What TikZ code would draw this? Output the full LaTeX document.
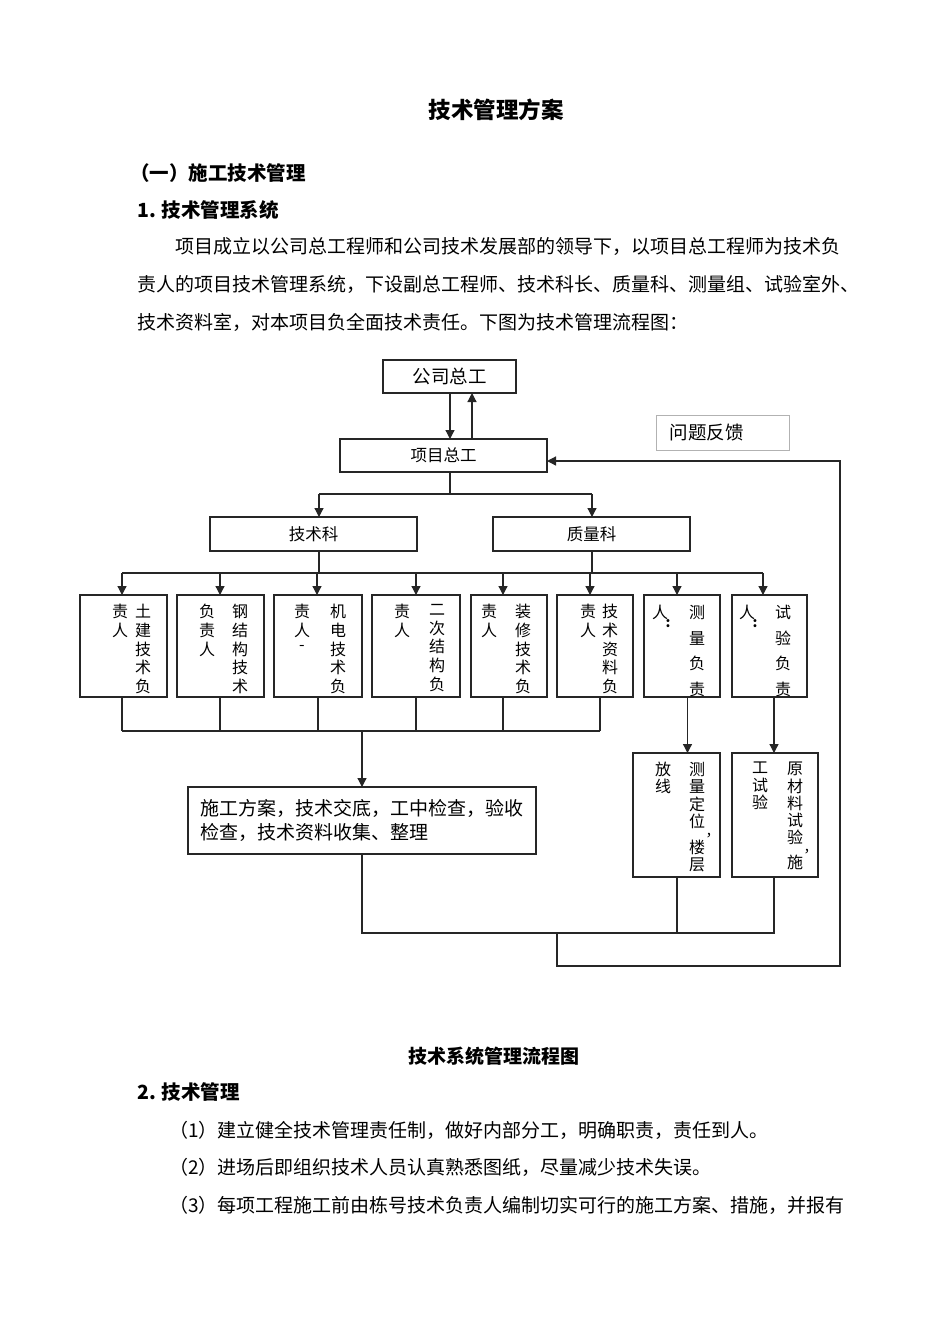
\documentclass[tikz,border=0pt]{standalone}
\usepackage{fontspec}
\setmainfont{Noto Sans CJK SC}
\usetikzlibrary{arrows.meta}
\newcommand\fs[2]{\fontsize{#1}{#2}\selectfont}
\newcommand\vcomma{\smash{\rlap{\kern0.5pt\raisebox{-9pt}{\fs{14}{14}，}}}}
\tikzset{
  box/.style={draw=black!85, line width=1.25pt, inner sep=0pt, outer sep=0pt},
  ln/.style={line width=1.25pt, draw=black!85},
  arr/.style={ln, -{Triangle[length=9pt,width=9pt]}},
  vcol/.style={inner sep=0pt, anchor=north, align=center, font=\fs{16}{18.7}},
  txt/.style={inner sep=0pt, anchor=west, font=\fs{19}{19}},
  hd/.style={inner sep=0pt, anchor=west, font=\fs{19.5}{20}\bfseries},
}
\begin{document}
\begin{tikzpicture}[x=1pt, y=-1pt]
\useasboundingbox (0,0) rectangle (950,1344);
\fill[white] (0,0) rectangle (950,1344);

% ---- text above
\node[inner sep=0pt, font=\fs{22.5}{23}\bfseries] (title) at (496,110) {技术管理方案};
\node[hd] (h1) at (130,173) {（一）施工技术管理};
\node[hd] (h2) at (137,210) {1. 技术管理系统};
\node[txt] (l1) at (175,246) {项目成立以公司总工程师和公司技术发展部的领导下，以项目总工程师为技术负};
\node[txt] (l2) at (137,284) {责人的项目技术管理系统，下设副总工程师、技术科长、质量科、测量组、试验室外、};
\node[txt] (l3) at (137,322) {技术资料室，对本项目负全面技术责任。下图为技术管理流程图：};

% ---- top boxes
\node[box, minimum width=133pt, minimum height=33pt, font=\fs{18.5}{19}] (gs) at (449.5,376.5) {公司总工};
\node[box, minimum width=207pt, minimum height=33pt, font=\fs{16.5}{17}] (xm) at (443.5,455.5) {项目总工};
\node[box, draw=black!30, line width=0.8pt, minimum width=133pt, minimum height=35pt,
      text width=106pt, inner xsep=13.5pt, align=left, font=\fs{18.5}{19}] (wt) at (722.5,432.5) {问题反馈};
\node[box, minimum width=207pt, minimum height=34pt, font=\fs{16.5}{17}] (js) at (313.5,534) {技术科};
\node[box, minimum width=197pt, minimum height=34pt, font=\fs{16.5}{17}] (zl) at (591.5,534) {质量科};

% ---- row of 8 boxes
\foreach \n/\cx/\w in {b1/123.5/87, b2/220.5/87, b3/318/88, b4/416/88, b5/509/76, b6/595/76, b7/682/76, b8/769.5/75}
  \node[box, minimum width=\w pt, minimum height=102pt] (\n) at (\cx,646) {};

\node[vcol] (b1r) at (143,604) {土\\建\\技\\术\\负};
\node[vcol] (b1l) at (120,604) {责\\人};
\node[vcol] (b2r) at (240,604) {钢\\结\\构\\技\\术};
\node[vcol] (b2l) at (207,604) {负\\责\\人};
\node[vcol] (b3r) at (338,604) {机\\电\\技\\术\\负};
\node[vcol] (b3l) at (302,604) {责\\人\\[-5pt]-};
\node[vcol] (b4r) at (437,604) {二\\次\\结\\构\\负};
\node[vcol] (b4l) at (402,604) {责\\人};
\node[vcol] (b5r) at (523,604) {装\\修\\技\\术\\负};
\node[vcol] (b5l) at (489,604) {责\\人};
\node[vcol] (b6r) at (610,604) {技\\术\\资\\料\\负};
\node[vcol] (b6l) at (588,604) {责\\人};
\node[vcol, font=\fs{16}{25.6}] (b7r) at (697,605) {测\\量\\负\\责};
\node[vcol] (b7l) at (660,605) {人};
\node[inner sep=0pt, font=\fs{14}{14}\bfseries] (b7c) at (668,624) {:};
\node[vcol, font=\fs{16}{25.6}] (b8r) at (783,605) {试\\验\\负\\责};
\node[vcol] (b8l) at (747,605) {人};
\node[inner sep=0pt, font=\fs{14}{14}\bfseries] (b8c) at (755,624) {:};

% ---- lower boxes
\node[box, minimum width=348pt, minimum height=67pt, align=left, font=\fs{19}{24}] (sg) at (362,820.5)
  {施工方案，技术交底，工中检查，验收\\检查，技术资料收集、整理};
\node[box, minimum width=87pt, minimum height=124pt] (cl) at (676.5,815) {};
\node[box, minimum width=86pt, minimum height=124pt] (sy) at (775,815) {};
\node[vcol, font=\fs{16}{17.3}] (clr) at (697,762) {测\\量\\定\\位\vcomma\\[9pt]楼\\层};
\node[vcol, font=\fs{16}{17.3}] (cll) at (663,762) {放\\线};
\node[vcol, font=\fs{16}{17.3}] (syr) at (795,762) {原\\材\\料\\试\\验\vcomma\\[7.5pt]施};
\node[vcol, font=\fs{16}{17.3}] (syl) at (760,762) {工\\试\\验};

% ---- connectors top
\draw[arr] ([xshift=0.5pt]gs.south) -- ([xshift=0.5pt]gs.south |- xm.north);
\draw[arr] ([xshift=22.5pt]gs.south |- xm.north) -- ([xshift=22.5pt]gs.south);

\coordinate (c1) at (450,494);
\coordinate (c1l) at (319,494);
\coordinate (c1r) at (592,494);
\draw[ln] (c1 |- xm.south) -- (c1);
\draw[ln] (c1l) -- (c1r);
\draw[arr] (c1l) -- (c1l |- js.north);
\draw[arr] (c1r) -- (c1r |- zl.north);

\coordinate (c2l) at (319,573);
\coordinate (c2r) at (592,573);
\draw[ln] (c2l |- js.south) -- (c2l);
\draw[ln] (c2r |- zl.south) -- (c2r);
\coordinate (h2a) at (122,573);
\coordinate (h2b) at (763,573);
\draw[ln] (h2a) -- (h2b);
\foreach \n/\x in {b1/122, b2/220, b3/317, b4/416, b5/503, b6/590, b7/677, b8/763} {
  \coordinate (a\n) at (\x,573);
  \draw[arr] (a\n) -- (a\n |- \n.north);
}

% ---- connectors middle
\foreach \n/\x in {b1/122, b2/220, b3/318, b4/416, b5/503, b6/600} {
  \coordinate (d\n) at (\x,731);
  \draw[ln] (d\n |- \n.south) -- (d\n);
}
\draw[ln] (db1) -- (db6);
\coordinate (d0) at (362,731);
\draw[arr] (d0) -- (sg.north);
\coordinate (e7) at (687.5,700);
\draw[arr] (e7 |- b7.south) -- (e7 |- cl.north);
\coordinate (e8) at (774,700);
\draw[arr] (e8 |- b8.south) -- (e8 |- sy.north);

% ---- bottom loop
\coordinate (f1) at (362,933);
\coordinate (f2) at (774,933);
\coordinate (f3) at (677,933);
\draw[ln] (sg.south) -- (f1) -- (f2) -- (f2 |- sy.south);
\draw[ln] (f3 |- cl.south) -- (f3);
\coordinate (g1) at (557,933);
\coordinate (g2) at (557,966);
\coordinate (g3) at (840,966);
\coordinate (g4) at (840,461);
\draw[arr] (g1) -- (g2) -- (g3) -- (g4) -- (g4 -| xm.east);

% ---- text below
\node[inner sep=0pt, font=\fs{19}{19}\bfseries] (cap) at (494,1056) {技术系统管理流程图};
\node[hd] (h3) at (137,1092) {2. 技术管理};
\node[txt] (p1) at (169,1130) {（1）建立健全技术管理责任制，做好内部分工，明确职责，责任到人。};
\node[txt] (p2) at (169,1167) {（2）进场后即组织技术人员认真熟悉图纸，尽量减少技术失误。};
\node[txt] (p3) at (169,1205) {（3）每项工程施工前由栋号技术负责人编制切实可行的施工方案、措施，并报有};
\end{tikzpicture}
\end{document}
